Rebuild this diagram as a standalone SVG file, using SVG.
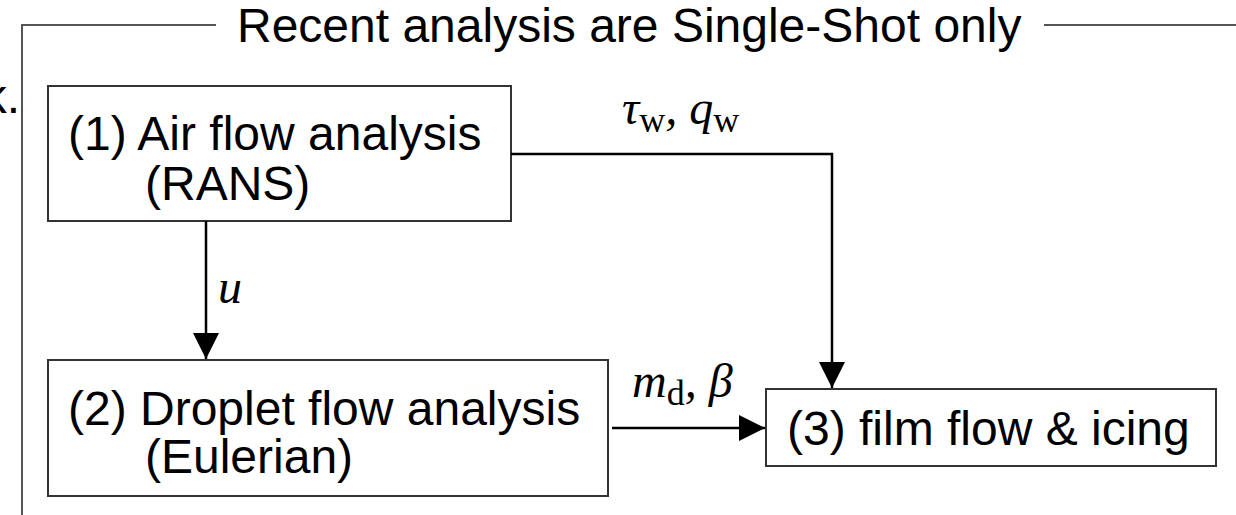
<svg xmlns="http://www.w3.org/2000/svg" width="1236" height="515" viewBox="0 0 1236 515">
<style>
.t{font-family:"Liberation Sans",Arial,sans-serif;font-size:48px;fill:#000}
.m{font-family:"Liberation Serif","DejaVu Serif",serif;font-size:48px;font-style:italic;fill:#000}
.s{font-style:normal;font-size:36px}
.box{fill:#fff;stroke:#333;stroke-width:2}
.frame{fill:none;stroke:#555;stroke-width:2}
.c{fill:none;stroke:#000;stroke-width:2.5}
</style>
<defs>
<marker id="ah" markerWidth="26" markerHeight="26" refX="26" refY="13" orient="auto" markerUnits="userSpaceOnUse">
<path d="M0,0 L26,13 L0,26 Z" fill="#000"/>
</marker>
</defs>
<g id="frame">
<path class="frame" d="M216,25 H22 V515"/>
<path class="frame" d="M1044,25 H1236"/>
<text class="t" x="237" y="42">Recent analysis are Single-Shot only</text>
<text class="t" x="20" y="113" text-anchor="end">k.</text>
</g>
<g id="node1">
<rect class="box" x="48" y="86" width="463" height="135"/>
<text class="t" x="68" y="150">(1) Air flow analysis</text>
<text class="t" x="145" y="200">(RANS)</text>
</g>
<g id="node2">
<rect class="box" x="48" y="360" width="560" height="136"/>
<text class="t" x="68" y="425">(2) Droplet flow analysis</text>
<text class="t" x="145" y="473">(Eulerian)</text>
</g>
<g id="node3">
<rect class="box" x="766" y="389" width="450" height="77"/>
<text class="t" x="787" y="445">(3) film flow &amp; icing</text>
</g>
<g id="connectors">
<path class="c" d="M206,221 V359" marker-end="url(#ah)"/>
<path class="c" d="M511,154 H832 V388" marker-end="url(#ah)"/>
<path class="c" d="M612,428 H765" marker-end="url(#ah)"/>
<text class="m" x="218" y="303">u</text>
<text class="m" x="622" y="124">τ<tspan class="s" dy="8">w</tspan><tspan dy="-8">, q</tspan><tspan class="s" dy="8">w</tspan></text>
<text class="m" x="632" y="397">m<tspan class="s" dy="8">d</tspan><tspan dy="-8">, β</tspan></text>
</g>
</svg>
